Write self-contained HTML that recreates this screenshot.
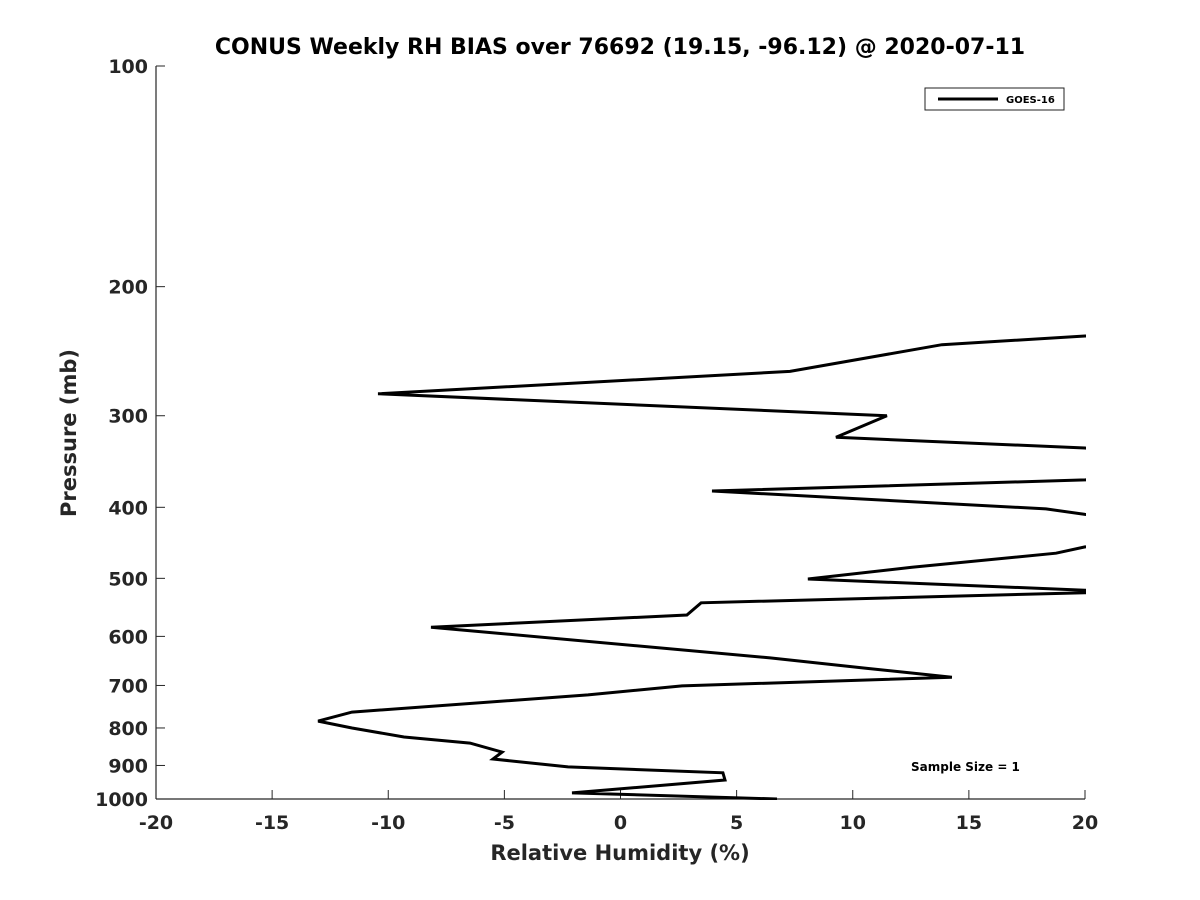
<!DOCTYPE html>
<html><head><meta charset="utf-8"><style>
body{margin:0;background:#fff;}
svg{display:block;font-family:"DejaVu Sans","Liberation Sans",sans-serif;}
</style></head><body>
<svg id="chart" width="1200" height="900" viewBox="0 0 1200 900">
<defs><clipPath id="plotclip"><rect x="156" y="66" width="930" height="734"/></clipPath></defs>
<rect width="1200" height="900" fill="#fff"/>
<text x="620" y="54" text-anchor="middle" font-size="22" font-weight="bold" fill="#000">CONUS Weekly RH BIAS over 76692 (19.15, -96.12) @ 2020-07-11</text>
<g id="axes"></g>
<g id="series" clip-path="url(#plotclip)"></g>
<g>
<rect x="925" y="88" width="139" height="22" fill="#fff" stroke="#222" stroke-width="1"/>
<line x1="938" y1="99" x2="998" y2="99" stroke="#000" stroke-width="3"/>
<text x="1006" y="103" font-size="10" font-weight="bold" fill="#000">GOES-16</text>
</g>
<text x="911" y="771" font-size="12" font-weight="bold" fill="#000">Sample Size = 1</text>
<text x="620" y="860" text-anchor="middle" font-size="21" font-weight="bold" fill="#262626">Relative Humidity (%)</text>
<text transform="translate(76,433) rotate(-90)" text-anchor="middle" font-size="21" font-weight="bold" fill="#262626">Pressure (mb)</text>
</svg>
<script>
const xTicks=[-20,-15,-10,-5,0,5,10,15,20];
const yTicks=[100,200,300,400,500,600,700,800,900,1000];
const rhBias=[30,20,13.84,7.3,-10.44,11.47,9.28,20,30,20,3.94,18.32,20,30,20,18.75,12.55,8.07,20,30,20,3.47,2.86,-8.16,6.44,10.57,14.27,2.65,-1.40,-11.56,-13.02,-11.56,-9.32,-6.48,-5.10,-5.49,-2.26,4.41,4.50,-2.09,6.74];
const pressure=[225,233.5,240,261,280,300,321,332,350,367,380,402,409,430,453,462,483,501,519,521,523,540,561,583,642,663,682,701,721,761,783,800,823,839,863,882,904,921,942,981,1000];
const L=156,R=1085,T=66,B=799;
function xs(v){return L+(v+20)/40*(R-L);}
function ys(p){return T+Math.log10(p/100)*(B-T);}
const NS="http://www.w3.org/2000/svg";
const ax=document.getElementById('axes');
function mk(tag,attrs,parent){const e=document.createElementNS(NS,tag);for(const k in attrs)e.setAttribute(k,attrs[k]);parent.appendChild(e);return e;}
const xl=mk('line',{x1:L,y1:B,x2:R,y2:B,stroke:'#262626','stroke-width':1.2},ax);


const yl=mk('line',{x1:L,y1:T,x2:L,y2:B,stroke:'#262626','stroke-width':1.2},ax);


xTicks.forEach(v=>{
 const x=xs(v);
 mk('line',{x1:x,y1:B,x2:x,y2:B-9,stroke:'#262626','stroke-width':1},ax);
 const t=mk('text',{x:x,y:B+30,'text-anchor':'middle','font-size':19,'font-weight':'bold',fill:'#262626'},ax);
 t.textContent=v;
 
 
});
yTicks.forEach(p=>{
 const y=ys(p);
 mk('line',{x1:L,y1:y,x2:L+9,y2:y,stroke:'#262626','stroke-width':1},ax);
 const t=mk('text',{x:L-8,y:y+7,'text-anchor':'end','font-size':19,'font-weight':'bold',fill:'#262626'},ax);
 t.textContent=p;
 
 
});
const pts=rhBias.map((v,i)=>xs(v).toFixed(1)+','+ys(pressure[i]).toFixed(1)).join(' ');
const pl=mk('polyline',{points:pts,fill:'none',stroke:'#000','stroke-width':3,'stroke-linejoin':'miter'},document.getElementById('series'));


</script>
</body></html>
